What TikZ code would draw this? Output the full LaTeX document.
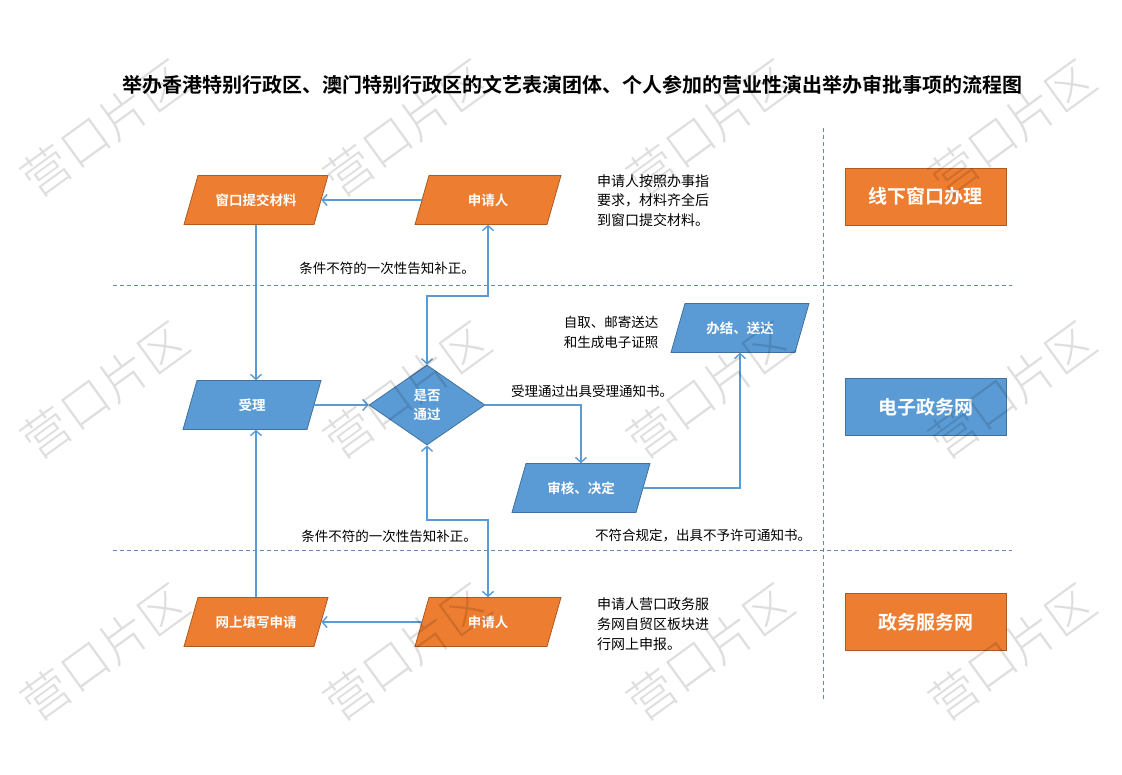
\documentclass[tikz,border=0pt]{standalone}
\usepackage{fontspec}
\setmainfont{Noto Sans CJK SC}[BoldFont={Noto Sans CJK SC Bold}]
\newfontfamily\wmfont{Noto Sans CJK SC Light}
\usetikzlibrary{arrows.meta,shapes.geometric}
\definecolor{org}{RGB}{237,125,49}
\definecolor{orgb}{RGB}{174,90,33}
\definecolor{blu}{RGB}{91,155,213}
\definecolor{blub}{RGB}{65,113,156}
\definecolor{lnc}{RGB}{91,155,213}
\definecolor{dsh}{RGB}{100,138,185}
\newcommand{\paraShape}[5]{%
  \filldraw[fill=#4, draw=#5, line width=0.8pt] (#1-#3-7,#2+24.5) -- (#1+#3-7,#2+24.5) -- (#1+#3+7,#2-24.5) -- (#1-#3+7,#2-24.5) -- cycle;}
\begin{document}
\begin{tikzpicture}[x=1pt,y=-1pt,
  anchorbox/.style={minimum height=49pt, inner sep=0pt, text=white, font=\bfseries\fontsize{13.5}{16}\selectfont, align=center},
  sidebox/.style={minimum width=161pt, minimum height=57pt, inner sep=0pt, line width=0.8pt, text=white, font=\bfseries\fontsize{19}{22}\selectfont},
  lab/.style={font=\fontsize{13.5}{19.8}\selectfont, inner sep=0pt, align=left},
  tip/.style={Straight Barb[length=5pt,width=11pt,line width=1.4pt]},
  conn/.style={draw=lnc, line width=1.6pt, -{Straight Barb[length=5pt,width=11pt,line width=1.4pt]}},
  conn2/.style={draw=lnc, line width=1.6pt, {Straight Barb[length=5pt,width=11pt,line width=1.4pt]}-{Straight Barb[length=5pt,width=11pt,line width=1.4pt]}},
  lane/.style={draw=dsh, line width=0.8pt, dash pattern=on 4pt off 3pt},
  wmark/.style={rotate=36, text=black, text opacity=0.13, font=\wmfont\fontsize{48}{48}\selectfont}
]
\useasboundingbox (0,0) rectangle (1122,774);
\fill[white] (0,0) rectangle (1122,774);

% title
\node[font=\bfseries\fontsize{20}{24}\selectfont] (title) at (572,85) {举办香港特别行政区、澳门特别行政区的文艺表演团体、个人参加的营业性演出举办审批事项的流程图};

% swimlane separators
\coordinate (h1a) at (113,285); \coordinate (h1b) at (1012,285);
\coordinate (h2a) at (113,550); \coordinate (h2b) at (1012,550);
\coordinate (v1a) at (823,128); \coordinate (v1b) at (823,700);
\draw[lane] (h1a) -- (h1b);
\draw[lane] (h2a) -- (h2b);
\draw[lane] (v1a) -- (v1b);

% parallelograms
\paraShape{256}{200}{65}{org}{orgb}
\node[anchorbox, minimum width=130pt] (win) at (256,200) {窗口提交材料};
\paraShape{488}{200}{66}{org}{orgb}
\node[anchorbox, minimum width=132pt] (app1) at (488,200) {申请人};
\paraShape{252}{405}{62}{blu}{blub}
\node[anchorbox, minimum width=124pt] (acc) at (252,405) {受理};
\paraShape{581}{488}{62}{blu}{blub}
\node[anchorbox, minimum width=124pt] (rev) at (581,488) {审核、决定};
\paraShape{740}{328}{62}{blu}{blub}
\node[anchorbox, minimum width=124pt] (fin) at (740,328) {办结、送达};
\paraShape{256}{622}{65}{org}{orgb}
\node[anchorbox, minimum width=130pt] (web) at (256,622) {网上填写申请};
\paraShape{488}{622}{66}{org}{orgb}
\node[anchorbox, minimum width=132pt] (app2) at (488,622) {申请人};

% decision
\node[diamond, draw=blub, fill=blu, line width=0.8pt, minimum width=116pt, minimum height=80pt, inner sep=0pt, text=white, font=\bfseries\fontsize{13.5}{19}\selectfont, align=center] (dia) at (427,405) {是否\\通过};

% side boxes
\node[sidebox, fill=org, draw=orgb] (s1) at (925.5,196.5) {线下窗口办理};
\node[sidebox, fill=blu, draw=blub] (s2) at (925.5,407) {电子政务网};
\node[sidebox, fill=org, draw=orgb] (s3) at (925.5,622) {政务服务网};

% connectors
\coordinate (k1) at (427,296);
\coordinate (k2) at (427,520);
\draw[conn] (app1.west) -- (win.east);
\draw[conn] (win.south) -- (win.south |- acc.north);
\draw[conn] (acc.east) -- (dia.west);
\draw[conn2] (dia.north) -- (k1) -| (app1.south);
\draw[conn2] (dia.south) -- (k2) -| (app2.north);
\draw[conn] (app2.west) -- (web.east);
\draw[conn] (web.north) -- (web.north |- acc.south);
\draw[conn] (dia.east) -| (rev.north);
\draw[conn] (rev.east) -| (fin.south);

% labels
\node[lab] (l1) at (387,268) {条件不符的一次性告知补正。};
\node[lab] (l2) at (389,536) {条件不符的一次性告知补正。};
\node[lab] (l3) at (592,391) {受理通过出具受理通知书。};
\node[lab] (l4) at (703,535) {不符合规定，出具不予许可通知书。};
\node[lab] (l5) at (611,332) {自取、邮寄送达\\和生成电子证照};
\node[lab, anchor=north west, font=\fontsize{14}{19.8}\selectfont] (t1) at (597,174) {申请人按照办事指\\要求，材料齐全后\\到窗口提交材料。};
\node[lab, anchor=north west, font=\fontsize{14}{19.8}\selectfont] (t2) at (597,598) {申请人营口政务服\\务网自贸区板块进\\行网上申报。};

% watermarks
\foreach \wx in {105,407,710,1012} {
  \foreach \wy in {128,390,652} {
    \node[wmark] at (\wx,\wy) {营口片区};
  }
}
\end{tikzpicture}
\end{document}
